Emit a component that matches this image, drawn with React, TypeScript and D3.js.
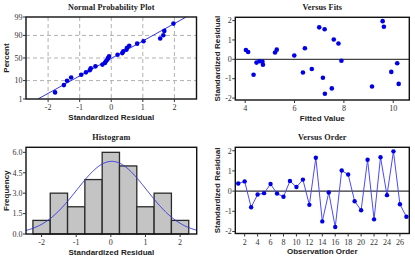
import React from "react";
import * as d3 from "d3";

// ---- Data ----
const observationOrder = [1,2,3,4,5,6,7,8,9,10,11,12,13,14,15,16,17,18,19,20,21,22,23,24,25,26,27];
const residuals = [0.38,0.48,-0.8,-0.17,-0.1,0.35,-0.12,-0.28,0.5,0.2,0.57,-0.68,1.65,-1.5,-0.07,-1.78,1.02,0.82,-0.5,-0.95,1.55,-1.4,1.68,-0.2,1.97,-0.65,-1.27];
const fittedValues = [4.12,4.03,4.34,4.46,4.58,5.21,4.70,4.72,5.28,5.99,6.42,6.34,7.0,7.51,7.9,7.23,7.59,7.78,6.7,7.15,7.22,9.14,9.62,10.16,9.57,9.92,10.22];
const histBinCenters = [-2,-1.5,-1,-0.5,0,0.5,1,1.5,2];
const histCounts = [1,3,2,4,6,5,2,3,1];
const nppXTicks = [-2,-1,0,1,2];
const nppYTicks = [1,10,50,90,99];
const fitsXTicks = [4,6,8,10];
const residTicks = [-2,-1,0,1,2];
const histXTicks = [-2,-1,0,1,2];
const histYTicks = [0,1.5,3,4.5,6];
const orderXTicks = [2,4,6,8,10,12,14,16,18,20,22,24,26];

// ---- helpers ----
function probit(p: number) {
  const a = [-3.969683028665376e+01, 2.209460984245205e+02, -2.759285104469687e+02, 1.383577518672690e+02, -3.066479806614716e+01, 2.506628277459239e+00];
  const b = [-5.447609879822406e+01, 1.615858368580409e+02, -1.556989798598866e+02, 6.680131188771972e+01, -1.328068155288572e+01];
  const c = [-7.784894002430293e-03, -3.223964580411365e-01, -2.400758277161838e+00, -2.549732539343734e+00, 4.374664141464968e+00, 2.938163982698783e+00];
  const d = [7.784695709041462e-03, 3.224671290700398e-01, 2.445134137142996e+00, 3.754408661907416e+00];
  const pl = 0.02425;
  if (p < pl) {
    const q = Math.sqrt(-2 * Math.log(p));
    return (((((c[0]*q+c[1])*q+c[2])*q+c[3])*q+c[4])*q+c[5]) / ((((d[0]*q+d[1])*q+d[2])*q+d[3])*q+1);
  } else if (p <= 1 - pl) {
    const q = p - 0.5, r = q * q;
    return (((((a[0]*r+a[1])*r+a[2])*r+a[3])*r+a[4])*r+a[5])*q / (((((b[0]*r+b[1])*r+b[2])*r+b[3])*r+b[4])*r+1);
  } else {
    const q = Math.sqrt(-2 * Math.log(1 - p));
    return -(((((c[0]*q+c[1])*q+c[2])*q+c[3])*q+c[4])*q+c[5]) / ((((d[0]*q+d[1])*q+d[2])*q+d[3])*q+1);
  }
}

const mean = d3.mean(residuals) as number;
const sd = d3.deviation(residuals) as number;
const n = residuals.length;

const TITLE_FONT = "'Liberation Serif', 'Times New Roman', serif";
const LABEL_FONT = "'Liberation Sans', Arial, sans-serif";
const TICK_FONT = "'Liberation Serif', 'Times New Roman', serif";
const BLUE = "#0000e6";
const LINE_BLUE = "#3535e0";

type Box = { x0: number; x1: number; y0: number; y1: number };

function Frame({ box, title, xLabel, yLabel, xTicks, yTicks, xs, ys, yFmt, xFmt }: any) {
  const { x0, x1, y0, y1 } = box;
  return (
    <g>
      <text x={(x0 + x1) / 2} y={y0 - 7} textAnchor="middle" fontFamily={TITLE_FONT} fontWeight="bold" fontSize={8.2} letterSpacing={0.1} fill="#222">{title}</text>
      <rect x={x0} y={y0} width={x1 - x0} height={y1 - y0} fill="none" stroke="#111" strokeWidth={1.4} />
      {xTicks.map((t: number) => (
        <g key={"x" + t}>
          <line x1={xs(t)} x2={xs(t)} y1={y1} y2={y1 + 3} stroke="#333" strokeWidth={1} />
          <text x={xs(t)} y={y1 + 11} textAnchor="middle" fontFamily={TICK_FONT} fontSize={8} fill="#333">{xFmt ? xFmt(t) : String(t)}</text>
        </g>
      ))}
      {yTicks.map((t: number) => (
        <g key={"y" + t}>
          <line x1={x0 - 3} x2={x0} y1={ys(t)} y2={ys(t)} stroke="#333" strokeWidth={1} />
          <text x={x0 - 3.5} y={ys(t) + 2.8} textAnchor="end" fontFamily={TICK_FONT} fontSize={8} fill="#333">{yFmt ? yFmt(t) : String(t)}</text>
        </g>
      ))}
      <text x={(x0 + x1) / 2} y={y1 + 20.5} textAnchor="middle" fontFamily={LABEL_FONT} fontWeight="bold" fontSize={8} fill="#222">{xLabel}</text>
      <text transform={`translate(${yLabel.x},${(y0 + y1) / 2}) rotate(-90)`} textAnchor="middle" fontFamily={LABEL_FONT} fontWeight="bold" fontSize={8} fill="#222">{yLabel.text}</text>
    </g>
  );
}

export default function App() {
  // Panel 1: Normal probability plot
  const b1: Box = { x0: 26, x1: 196.5, y0: 17, y1: 99 };
  const x1s = d3.scaleLinear().domain([-2.7, 2.7]).range([b1.x0, b1.x1]);
  const pMin = probit(0.01), pMax = probit(0.99);
  const y1lin = d3.scaleLinear().domain([pMin, pMax]).range([b1.y1, b1.y0]);
  const y1s = (pct: number) => y1lin(probit(pct / 100));
  const sorted = [...residuals].sort((a, b) => a - b);
  const nppPts = sorted.map((r, i) => ({ x: r, p: (100 * (i + 1 - 0.3)) / (n + 0.4) }));
  const lineXs = [mean + sd * pMin, mean + sd * pMax];

  // Panel 2: Versus fits
  const b2: Box = { x0: 235.3, x1: 409.3, y0: 17.3, y1: 100 };
  const x2s = d3.scaleLinear().domain([3.6, 10.65]).range([b2.x0, b2.x1]);
  const y2s = d3.scaleLinear().domain([-2.1, 2.17]).range([b2.y1, b2.y0]);

  // Panel 3: Histogram
  const b3: Box = { x0: 26, x1: 196.7, y0: 147.3, y1: 234 };
  const x3s = d3.scaleLinear().domain([-2.45, 2.48]).range([b3.x0, b3.x1]);
  const y3s = d3.scaleLinear().domain([0, 6.37]).range([b3.y1, b3.y0]);
  const binW = 0.5;
  const curveXs = d3.range(-2.45, 2.4801, 0.02);
  const curve = d3.line<number>()
    .x((x) => x3s(x))
    .y((x) => y3s((n * binW) / (sd * Math.sqrt(2 * Math.PI)) * Math.exp(-0.5 * ((x - mean) / sd) ** 2)))(curveXs);

  // Panel 4: Versus order
  const b4: Box = { x0: 235.3, x1: 409.3, y0: 147.3, y1: 233.5 };
  const x4s = d3.scaleLinear().domain([0.55, 27.45]).range([b4.x0, b4.x1]);
  const y4s = d3.scaleLinear().domain([-2.1, 2.17]).range([b4.y1, b4.y0]);
  const orderLine = d3.line<number>().x((_, i) => x4s(observationOrder[i])).y((r) => y4s(r))(residuals);

  return (
    <svg width={415} height={256} style={{ position: "absolute", left: 0, top: 0, background: "#fff" }}>
      <defs>
        <clipPath id="c1"><rect x={b1.x0} y={b1.y0} width={b1.x1 - b1.x0} height={b1.y1 - b1.y0} /></clipPath>
        <clipPath id="c3"><rect x={b3.x0} y={b3.y0} width={b3.x1 - b3.x0} height={b3.y1 - b3.y0} /></clipPath>
      </defs>
      <rect x={0} y={0} width={415} height={256} fill="#fff" />

      {/* Panel 1 */}
      <g>
        {nppXTicks.map((t) => (
          <line key={"gx" + t} x1={x1s(t)} x2={x1s(t)} y1={b1.y0} y2={b1.y1} stroke="#b0b0b0" strokeDasharray="4,3" strokeWidth={1} />
        ))}
        {[10, 50, 90].map((t) => (
          <line key={"gy" + t} x1={b1.x0} x2={b1.x1} y1={y1s(t)} y2={y1s(t)} stroke="#b0b0b0" strokeDasharray="4,3" strokeWidth={1} />
        ))}
        <g clipPath="url(#c1)">
          <line x1={x1s(lineXs[0])} x2={x1s(lineXs[1])} y1={y1lin(pMin)} y2={y1lin(pMax)} stroke={LINE_BLUE} strokeWidth={1} />
        </g>
        {nppPts.map((d, i) => (
          <circle key={i} cx={x1s(d.x)} cy={y1s(d.p)} r={2.3} fill={BLUE} />
        ))}
        <Frame box={b1} title="Normal Probability Plot" xLabel="Standardized Residual" yLabel={{ text: "Percent", x: 9 }}
          xTicks={nppXTicks} yTicks={nppYTicks} xs={x1s} ys={y1s} />
      </g>

      {/* Panel 2 */}
      <g>
        <line x1={b2.x0} x2={b2.x1} y1={y2s(0)} y2={y2s(0)} stroke="#444" strokeWidth={1.2} />
        {residuals.map((r, i) => (
          <circle key={i} cx={x2s(fittedValues[i])} cy={y2s(r)} r={2.3} fill={BLUE} />
        ))}
        <Frame box={b2} title="Versus Fits" xLabel="Fitted Value" yLabel={{ text: "Standardized Residual", x: 220 }}
          xTicks={fitsXTicks} yTicks={residTicks} xs={x2s} ys={y2s} />
      </g>

      {/* Panel 3 */}
      <g>
        {histBinCenters.map((c, i) => (
          <rect key={i} x={x3s(c - binW / 2)} y={y3s(histCounts[i])} width={x3s(c + binW / 2) - x3s(c - binW / 2)} height={y3s(0) - y3s(histCounts[i])}
            fill="#c4c4c4" stroke="#2a2a2a" strokeWidth={1.3} />
        ))}
        <g clipPath="url(#c3)">
          <path d={curve as string} fill="none" stroke={LINE_BLUE} strokeWidth={1} />
        </g>
        <Frame box={b3} title="Histogram" xLabel="Standardized Residual" yLabel={{ text: "Frequency", x: 9 }}
          xTicks={histXTicks} yTicks={histYTicks} xs={x3s} ys={y3s} yFmt={d3.format(".1f")} />
      </g>

      {/* Panel 4 */}
      <g>
        <line x1={b4.x0} x2={b4.x1} y1={y4s(0)} y2={y4s(0)} stroke="#333" strokeWidth={1.3} />
        <path d={orderLine as string} fill="none" stroke="#4a4aff" strokeWidth={1} />
        {residuals.map((r, i) => (
          <circle key={i} cx={x4s(observationOrder[i])} cy={y4s(r)} r={2.2} fill={BLUE} />
        ))}
        <Frame box={b4} title="Versus Order" xLabel="Observation Order" yLabel={{ text: "Standardized Residual", x: 220 }}
          xTicks={orderXTicks} yTicks={residTicks} xs={x4s} ys={y4s} />
      </g>
    </svg>
  );
}
